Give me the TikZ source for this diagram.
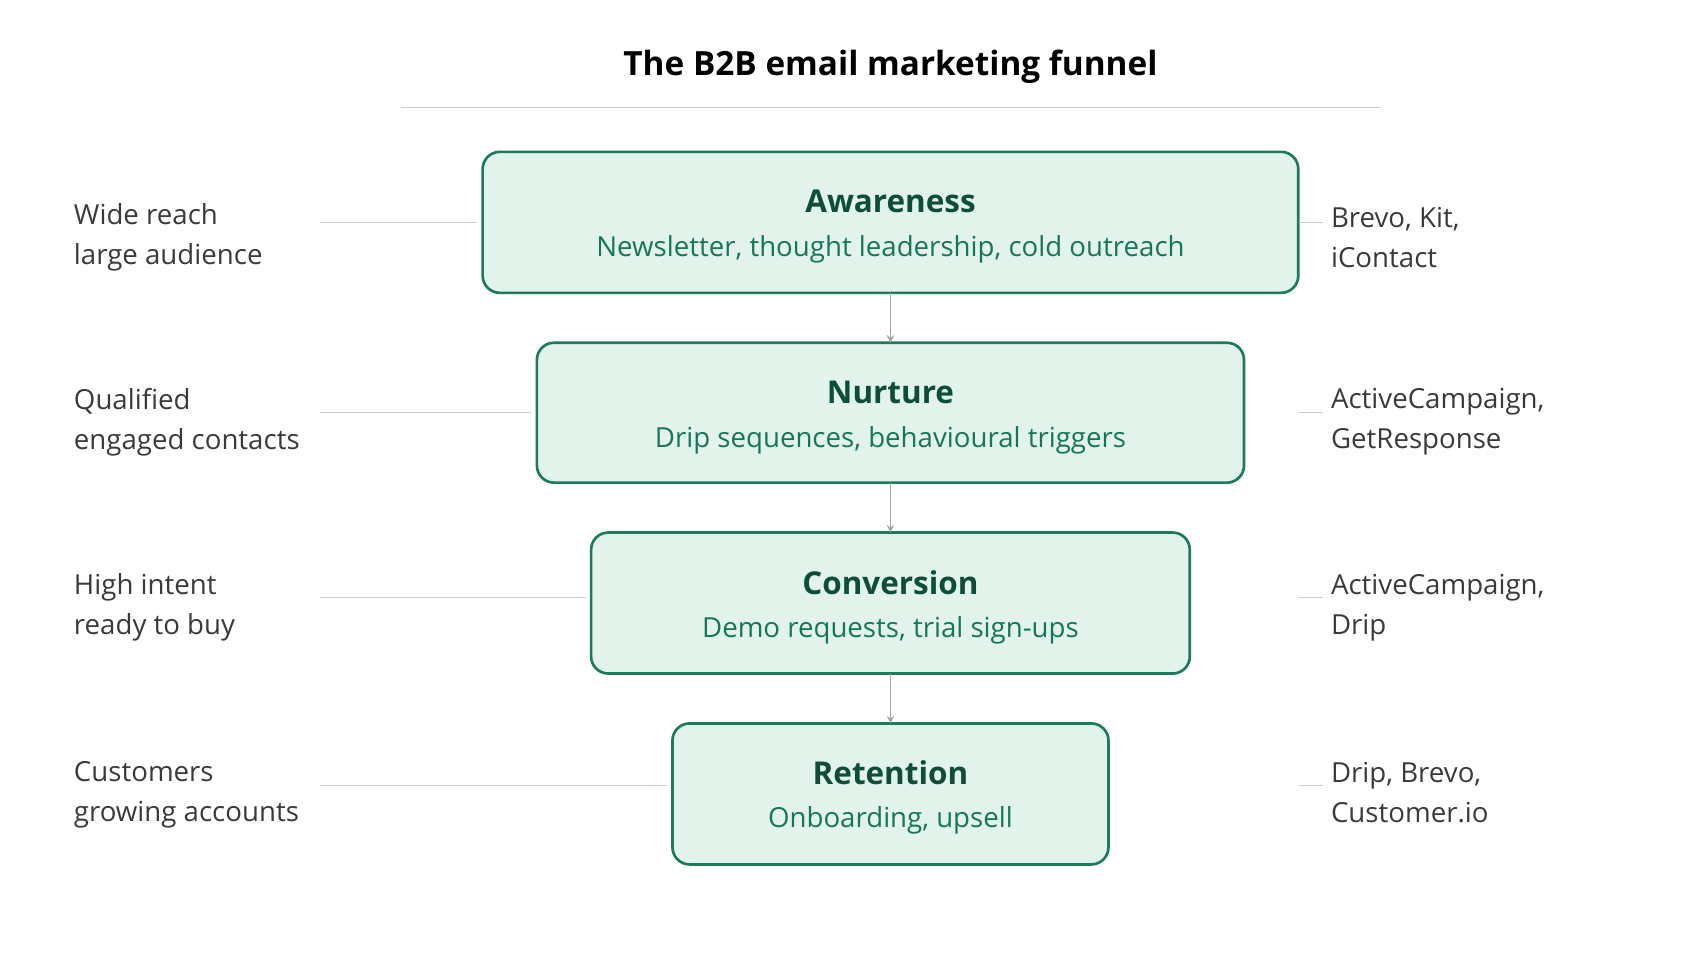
\documentclass[tikz,border=0pt]{standalone}
\usepackage{fontspec}
\setmainfont{Open Sans}
\usetikzlibrary{positioning}
\definecolor{boxfill}{HTML}{E1F3EB}
\definecolor{boxline}{HTML}{1E7A5C}
\definecolor{darkgreen}{HTML}{0E4D3A}
\definecolor{midgreen}{HTML}{17765A}
\definecolor{sidetext}{HTML}{3A3A3A}
\begin{document}
\begin{tikzpicture}[x=0.02cm,y=-0.02cm,
    stage/.style={draw=boxline,line width=1.4pt,fill=boxfill,rounded corners=9pt},
    head/.style={font=\fontsize{16.5}{19}\selectfont\bfseries,text=darkgreen},
    sub/.style={font=\fontsize{14.5}{17}\selectfont,text=midgreen},
    side/.style={font=\fontsize{14.5}{21}\selectfont,text=sidetext,align=left,anchor=west},
    guide/.style={draw=gray!40,line width=0.6pt},
    flow/.style={draw=gray!70,line width=0.8pt,->,>=stealth}]
		\useasboundingbox (0,0) rectangle (1560,882);
		\node[font=\fontsize{17.5}{20}\selectfont\bfseries] (title) at (821,62) {The B2B email marketing funnel};
		\draw[guide] (370,99) -- (1272,99);
		% stages
		\draw[stage] (445,140) rectangle (1197,270);
		\draw[stage] (495,316) rectangle (1147,445);
		\draw[stage] (545,491) rectangle (1097,621);
		\draw[stage] (620,667) rectangle (1022,797);
		\coordinate (a top) at (821,140); \coordinate (a bot) at (821,270);
		\coordinate (n top) at (821,316); \coordinate (n bot) at (821,445);
		\coordinate (c top) at (821,491); \coordinate (c bot) at (821,621);
		\coordinate (r top) at (821,667);
		\node[head] (aw) at (821,186) {Awareness};
		\node[sub] (aws) at (821,230) {Newsletter, thought leadership, cold outreach};
		\node[head] (nu) at (821,362) {Nurture};
		\node[sub] (nus) at (821,406) {Drip sequences, behavioural triggers};
		\node[head] (co) at (821,537) {Conversion};
		\node[sub] (cos) at (821,581) {Demo requests, trial sign-ups};
		\node[head] (re) at (821,712) {Retention};
		\node[sub] (res) at (821,756) {Onboarding, upsell};
		\draw[flow] (a bot) -- (n top);
		\draw[flow] (n bot) -- (c top);
		\draw[flow] (c bot) -- (r top);
		% left notes
		\node[side] (l1) at (62,219) {Wide reach\\large audience};
		\node[side] (l2) at (62,389) {Qualified\\engaged contacts};
		\node[side] (l3) at (62,560) {High intent\\ready to buy};
		\node[side] (l4) at (62,733) {Customers\\growing accounts};
		\draw[guide] (295,205) -- (440,205);
		\draw[guide] (295,380) -- (490,380);
		\draw[guide] (295,551) -- (540,551);
		\draw[guide] (295,724) -- (615,724);
		% right notes
		\node[side] (r1) at (1221,219) {Brevo, Kit,\\iContact};
		\node[side] (r2) at (1221,389) {ActiveCampaign,\\GetResponse};
		\node[side] (r3) at (1221,560) {ActiveCampaign,\\Drip};
		\node[side] (r4) at (1221,731) {Drip, Brevo,\\Customer.io};
		\draw[guide] (1198,205) -- (1220,205);
		\draw[guide] (1198,380) -- (1220,380);
		\draw[guide] (1198,551) -- (1220,551);
		\draw[guide] (1198,724) -- (1220,724);
	\end{tikzpicture}
\end{document}
